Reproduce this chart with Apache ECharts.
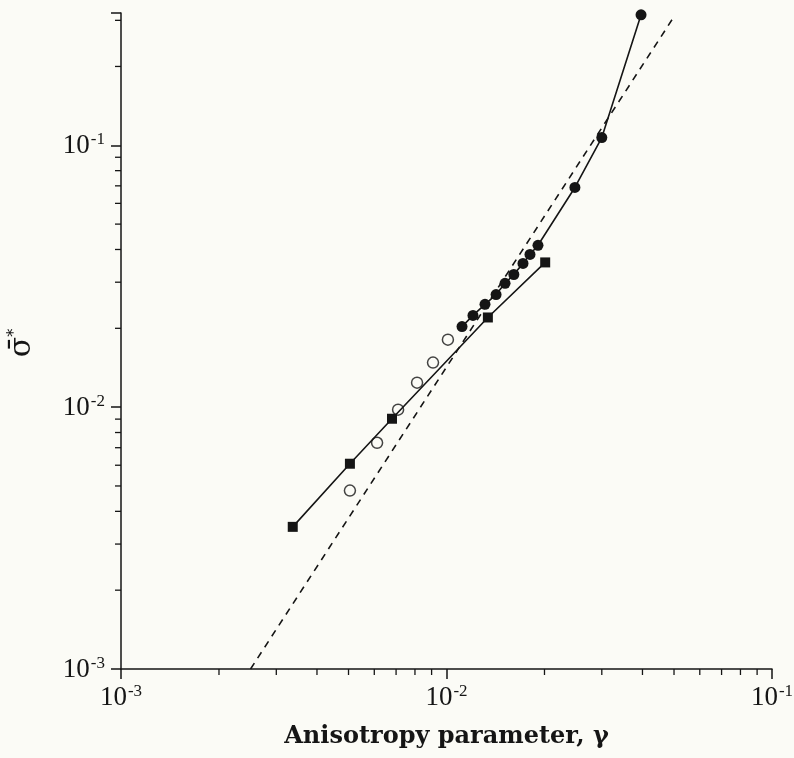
<!DOCTYPE html>
<html lang="en">
<head>
    <meta charset="UTF-8">
    <title>Anisotropy</title>
    <script src="https://cdn.jsdelivr.net/npm/echarts@6/dist/echarts.min.js"></script>
</head>
<body style="margin:0;background:#fbfbf6">
<div id="main" style="width: 794px;height: 758px"></div>
<script type="text/javascript">
  // gamma / sigma* values
  var squareX = [0.00337, 0.00505, 0.0068, 0.0134, 0.0201];
  var squareY = [0.00349, 0.00608, 0.00903, 0.022, 0.0357];

  var openX = [0.00505, 0.00612, 0.0071, 0.00812, 0.00909, 0.0101];
  var openY = [0.0048, 0.00731, 0.00978, 0.0124, 0.0148, 0.0181];

  var dotX = [0.01116, 0.01206, 0.01313, 0.0142, 0.01513, 0.0161, 0.01718, 0.01805, 0.0191, 0.0248, 0.0300, 0.0396];
  var dotY = [0.0203, 0.0224, 0.0247, 0.0269, 0.0297, 0.0321, 0.0354, 0.0383, 0.0415, 0.069, 0.107, 0.315];

  var dashX = [0.0025, 0.05];
  var dashY = [0.001, 0.31];

  var xMinorTicks = [0.002, 0.003, 0.004, 0.005, 0.006, 0.007, 0.008, 0.009,
                     0.02, 0.03, 0.04, 0.05, 0.06, 0.07, 0.08, 0.09];
  var yMinorTicks = [0.002, 0.003, 0.004, 0.005, 0.006, 0.007, 0.008, 0.009,
                     0.02, 0.03, 0.04, 0.05, 0.06, 0.07, 0.08, 0.09, 0.2, 0.3];

  var ink = '#151515';
  var xMin = 0.001, xMax = 0.1, yMin = 0.001, yMax = 0.32;

  function pairs(xs, ys) {
    return xs.map(function (x, i) { return [x, ys[i]]; });
  }

  function powLabel(v) {
    var e = Math.log10(v);
    if (Math.abs(e - Math.round(e)) > 1e-6) return '';
    return '{b|10}{s|' + Math.round(e) + '}';
  }
  var labelRich = {
    b: { fontFamily: 'Liberation Serif', fontSize: 27, color: ink, verticalAlign: 'bottom', lineHeight: 28 },
    s: { fontFamily: 'Liberation Serif', fontSize: 17, color: ink, verticalAlign: 'top', lineHeight: 28, padding: [0, 0, 12, 1] }
  };

  var myChart = echarts.init(document.getElementById('main'));
  var option = {
    backgroundColor: '#fbfbf6',
    animation: false,
    grid: { left: 121, right: 22, top: 13, bottom: 89, containLabel: false, outerBoundsMode: 'none' },
    graphic: [{
      type: 'text',
      x: 22, y: 343,
      rotation: Math.PI / 2,
      style: {
        text: '{a|σ̄}{s|*}',
        align: 'center', verticalAlign: 'middle',
        rich: {
          a: { fontFamily: 'DejaVu Serif', fontSize: 30, fill: ink },
          s: { fontFamily: 'DejaVu Serif', fontSize: 16, fill: ink, verticalAlign: 'top', padding: [0, 0, 12, 0] }
        }
      }
    }],
    xAxis: {
      type: 'log', logBase: 10, min: xMin, max: xMax,
      name: 'Anisotropy parameter, γ',
      nameLocation: 'middle', nameGap: 56,
      nameTextStyle: { fontFamily: 'DejaVu Serif', fontSize: 24, fontWeight: 'bold', color: ink },
      axisLine: { lineStyle: { color: ink, width: 1.5 } },
      axisTick: { length: 10, lineStyle: { color: ink, width: 1.5 } },
      axisLabel: { formatter: powLabel, rich: labelRich, margin: 14 },
      splitLine: { show: false }
    },
    yAxis: {
      type: 'log', logBase: 10, min: yMin, max: yMax,
      axisLine: { lineStyle: { color: ink, width: 1.5 } },
      axisTick: { length: 10, lineStyle: { color: ink, width: 1.5 } },
      axisLabel: { formatter: powLabel, rich: labelRich, margin: 16 },
      splitLine: { show: false }
    },
    series: [
      {
        type: 'custom',
        silent: true,
        clip: false,
        data: xMinorTicks.map(function (v) { return [v, yMin]; }),
        renderItem: function (params, api) {
          var p = api.coord([api.value(0), api.value(1)]);
          return { type: 'line', shape: { x1: p[0], y1: p[1], x2: p[0], y2: p[1] + 6 },
                   style: { stroke: ink, lineWidth: 1.3 } };
        }
      },
      {
        type: 'custom',
        silent: true,
        clip: false,
        data: yMinorTicks.map(function (v) { return [xMin, v]; }),
        renderItem: function (params, api) {
          var p = api.coord([api.value(0), api.value(1)]);
          return { type: 'line', shape: { x1: p[0] - 6, y1: p[1], x2: p[0], y2: p[1] },
                   style: { stroke: ink, lineWidth: 1.3 } };
        }
      },
      {
        name: 'fit',
        type: 'line',
        data: pairs(dashX, dashY),
        symbol: 'none',
        lineStyle: { color: ink, width: 1.6, type: [7, 6] }
      },
      {
        name: 'squares',
        type: 'line',
        data: pairs(squareX, squareY),
        symbol: 'rect', symbolSize: 10,
        itemStyle: { color: ink },
        lineStyle: { color: ink, width: 1.6 }
      },
      {
        name: 'filled',
        type: 'line',
        data: pairs(dotX, dotY),
        symbol: 'circle', symbolSize: 11,
        itemStyle: { color: ink },
        lineStyle: { color: ink, width: 1.6 }
      },
      {
        name: 'open',
        type: 'scatter',
        data: pairs(openX, openY),
        symbol: 'circle', symbolSize: 11,
        itemStyle: { color: '#fbfbf6', borderColor: ink, borderWidth: 1.5 }
      }
    ]
  };
  myChart.setOption(option);
</script>
</body>
</html>
